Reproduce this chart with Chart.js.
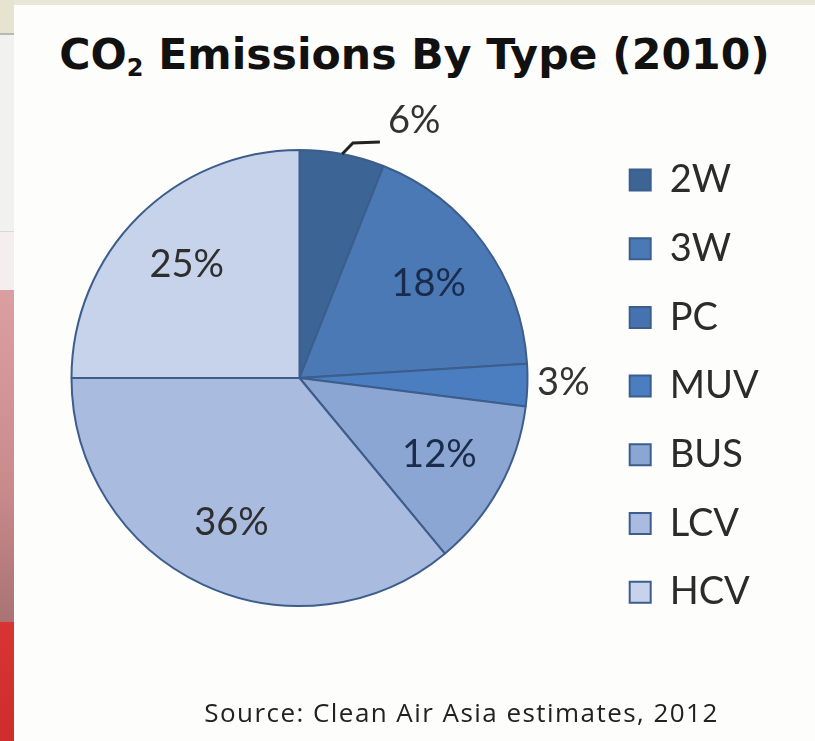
<!DOCTYPE html>
<html>
<head>
<meta charset="utf-8">
<script src="https://cdn.jsdelivr.net/npm/chart.js@4/dist/chart.umd.min.js"></script>
<style>
  html, body { margin: 0; padding: 0; }
  body { width: 815px; height: 741px; position: relative; overflow: hidden; background: #fdfdfb; font-family: Lato, 'Open Sans', sans-serif; }
  .top-band { position: absolute; left: 0; top: 0; width: 815px; height: 5px; background: #e8e6d4; }
  .side { position: absolute; left: 0; width: 14px; }
  .side.a { top: 0; height: 33px; background: #e6e4d1; }
  .side.b { top: 33px; height: 2px; background: #b8b8b4; }
  .side.c { top: 35px; height: 196px; background: #f1f1ef; border-bottom: 1px solid #d8d8d6; }
  .side.f { top: 232px; height: 58px; background: #f4eeee; }
  .side.d { top: 290px; height: 332px; background: linear-gradient(#dc9fa1, #c98a8c 60%, #a97373); }
  .side.e { top: 622px; height: 119px; background: linear-gradient(#d83434, #cf2c2c); }
  h1 { position: absolute; left: 14px; width: 801px; top: 29px; margin: 0; line-height: 50px; text-align: center; font-family: 'DejaVu Sans', 'Open Sans', sans-serif; font-size: 42.6px; font-weight: 700; color: #111; }
  h1 sub { font-size: 24px; vertical-align: -7px; line-height: 0; }
  .source { position: absolute; left: 14px; width: 801px; top: 694px; margin: 0; text-align: center; padding-left: 94px; box-sizing: border-box; font-family: 'Open Sans', Lato, sans-serif; font-size: 26px; letter-spacing: 1.45px; color: #222; }
  #chart { position: absolute; left: 0; top: 0; }
</style>
</head>
<body>
<div class="top-band"></div>
<div class="side a"></div>
<div class="side b"></div>
<div class="side c"></div>
<div class="side f"></div>
<div class="side d"></div>
<div class="side e"></div>
<h1>CO<sub>2</sub> Emissions By Type (2010)</h1>
<canvas id="chart" width="815" height="741"></canvas>
<p class="source">Source: Clean Air Asia estimates, 2012</p>
<script>
// vehicle types and their share of CO2 emissions, percent
const vehicleTypes = ['2W', '3W', 'PC', 'MUV', 'BUS', 'LCV', 'HCV'];
const emissionShares = [6, 18, 0, 3, 12, 36, 25];
const sliceColors = ['#3c6495', '#4a79b6', '#4673b0', '#4b7dc1', '#8ba6d3', '#a9bcdf', '#c6d3ea'];

const fontFamily = 'Lato, "Open Sans", sans-serif';
const legendFontSize = 38;
const legendBox = 21;
const legendGap = 30.7;

// pie placement
const pieCenterX = 294.5;
const pieRadius = 228;
const legendLeft = 599;

// work out the legend's natural width so the layout padding puts it where it should be
const measure = document.createElement('canvas').getContext('2d');
measure.font = legendFontSize + 'px ' + fontFamily;
const widestLabel = Math.max(...vehicleTypes.map((t) => measure.measureText(t).width));
const legendWidth = legendGap + legendBox + legendFontSize / 2 + widestLabel + 10;

// percent labels: inside for big slices, outside (with a leader near the top) for small ones
const percentLabels = {
  id: 'percentLabels',
  afterDatasetsDraw(chart) {
    const { ctx } = chart;
    const meta = chart.getDatasetMeta(0);
    const values = chart.data.datasets[0].data;
    ctx.save();
    ctx.font = '38px ' + fontFamily;
    ctx.textBaseline = 'middle';
    meta.data.forEach((arc, i) => {
      const value = values[i];
      if (!value) return;
      const { x, y, startAngle, endAngle, outerRadius } = arc.getProps(['x', 'y', 'startAngle', 'endAngle', 'outerRadius'], true);
      const mid = (startAngle + endAngle) / 2;
      const text = value + '%';
      if (value >= 10) {
        const r = outerRadius * 0.7;
        ctx.fillStyle = i < 5 ? '#1a2b4b' : '#2e2e2e';
        ctx.textAlign = 'center';
        ctx.fillText(text, x + Math.cos(mid) * r, y + Math.sin(mid) * r);
        return;
      }
      ctx.fillStyle = '#333';
      if (Math.abs(Math.cos(mid)) < 0.7) {
        const side = Math.cos(mid) >= 0 ? 1 : -1;
        const x0 = x + Math.cos(mid) * outerRadius;
        const y0 = y + Math.sin(mid) * outerRadius;
        const a1 = mid + side * 0.035;
        const x1 = x + Math.cos(a1) * (outerRadius + 13);
        const y1 = y + Math.sin(a1) * (outerRadius + 13);
        const x2 = x1 + side * 27;
        const y2 = y1 - 1;
        ctx.strokeStyle = '#222';
        ctx.lineWidth = 3;
        ctx.beginPath();
        ctx.moveTo(x0, y0);
        ctx.lineTo(x1, y1);
        ctx.lineTo(x2, y2);
        ctx.stroke();
        ctx.textAlign = side > 0 ? 'left' : 'right';
        ctx.fillText(text, x2 + side * 8, y2 - 21);
      } else {
        const r = outerRadius + 36;
        ctx.textAlign = 'center';
        ctx.fillText(text, x + Math.cos(mid) * r, y + Math.sin(mid) * r - 4);
      }
    });
    ctx.restore();
  }
};

const ctx = document.querySelector('#chart').getContext('2d');

new Chart(ctx, {
  type: 'pie',
  data: {
    labels: vehicleTypes,
    datasets: [
      {
        data: emissionShares,
        backgroundColor: sliceColors,
        borderColor: '#3d5d8c',
        borderWidth: 2,
      },
    ],
  },
  options: {
    responsive: false,
    animation: false,
    radius: pieRadius,
    layout: {
      padding: {
        left: 2 * pieCenterX - legendLeft,
        right: 815 - legendLeft - legendWidth,
        top: 105,
        bottom: 90,
      },
    },
    plugins: {
      tooltip: { enabled: false },
      legend: {
        position: 'right',
        align: 'start',
        title: { display: true, text: '', font: { size: 1, lineHeight: 1 }, padding: { top: 24.3, bottom: 0 } },
        labels: {
          boxWidth: legendBox,
          boxHeight: legendBox,
          padding: legendGap,
          color: '#2b2b2b',
          font: { size: legendFontSize, family: fontFamily },
        },
      },
    },
  },
  plugins: [percentLabels],
});
</script>
</body>
</html>
